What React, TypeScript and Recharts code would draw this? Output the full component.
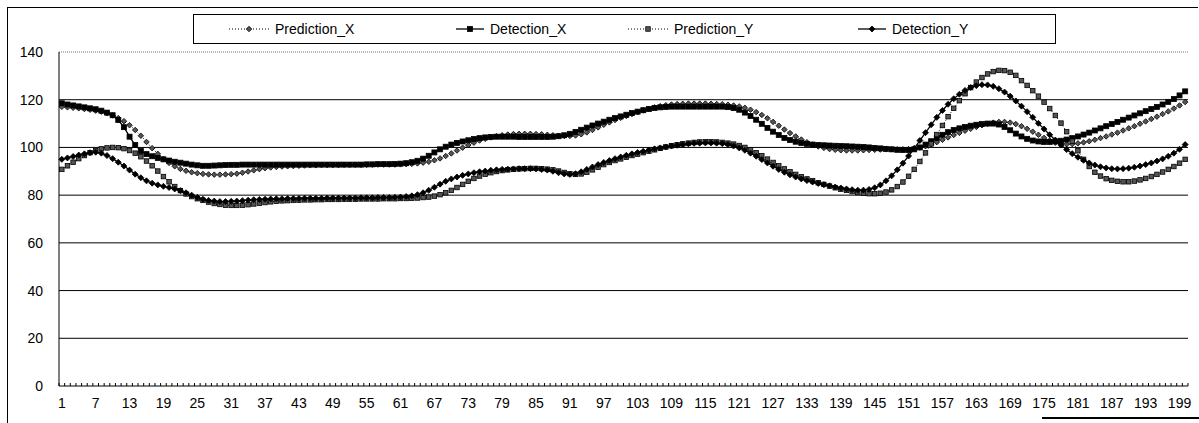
import React from 'react';
import { LineChart, Line, XAxis, YAxis, ReferenceLine } from 'recharts';

const categories: number[] = Array.from({ length: 200 }, (_, i) => i + 1);
const xTickLabels = [1, 7, 13, 19, 25, 31, 37, 43, 49, 55, 61, 67, 73, 79, 85, 91, 97, 103, 109, 115, 121, 127, 133, 139, 145, 151, 157, 163, 169, 175, 181, 187, 193, 199];
const yTicks = [0, 20, 40, 60, 80, 100, 120, 140];
const gridValues = [20, 40, 60, 80, 100, 120];

const predictionX = [
  117, 116.8, 116.6, 116.4, 116.1, 115.8, 115.4, 115, 114.3, 113.4,
  112.3, 111, 109.3, 107.3, 104.9, 102.3, 99.7, 97.3, 95.2, 93.5,
  92.1, 91, 90.2, 89.6, 89.2, 88.9, 88.7, 88.6, 88.6, 88.7,
  88.8, 89, 89.4, 89.9, 90.4, 90.9, 91.3, 91.6, 91.8, 92,
  92.1, 92.2, 92.3, 92.4, 92.5, 92.5, 92.6, 92.6, 92.6, 92.6,
  92.7, 92.7, 92.7, 92.7, 92.7, 92.8, 92.8, 92.8, 92.8, 92.8,
  92.9, 93, 93.1, 93.3, 93.6, 94, 94.6, 95.4, 96.4, 97.5,
  98.7, 99.9, 101, 102, 102.9, 103.6, 104.2, 104.7, 105.1, 105.4,
  105.6, 105.7, 105.7, 105.7, 105.6, 105.5, 105.3, 105.1, 104.9, 104.8,
  104.8, 105, 105.5, 106.3, 107.3, 108.4, 109.5, 110.5, 111.5, 112.4,
  113.2, 114, 114.8, 115.5, 116.2, 116.8, 117.3, 117.7, 118, 118.2,
  118.3, 118.4, 118.4, 118.4, 118.4, 118.3, 118.2, 118.1, 117.9, 117.6,
  117.2, 116.6, 115.8, 114.8, 113.6, 112.2, 110.7, 109.1, 107.5, 106,
  104.6, 103.3, 102.2, 101.2, 100.4, 99.8, 99.3, 99, 98.8, 98.7,
  98.7, 98.7, 98.8, 98.9, 99, 99.1, 99.2, 99.2, 99.2, 99.2,
  99.3, 99.5, 99.9, 100.5, 101.3, 102.2, 103.2, 104.2, 105.2, 106.1,
  107, 107.8, 108.6, 109.3, 109.9, 110.4, 110.7, 110.7, 110.4, 109.8,
  108.9, 107.8, 106.6, 105.3, 104, 102.9, 102, 101.5, 101.3, 101.4,
  101.7, 102.1, 102.6, 103.2, 103.9, 104.6, 105.4, 106.2, 107.1, 108,
  108.9, 109.9, 110.9, 111.9, 112.9, 114, 115.1, 116.3, 117.6, 119,
];

const detectionX = [
  118.5, 118, 117.6, 117.2, 116.8, 116.4, 116, 115.4, 114.6, 113.5,
  111.5, 108.5, 104.5, 101, 98.5, 97.2, 96.3, 95.6, 95, 94.5,
  94, 93.6, 93.2, 92.8, 92.5, 92.3, 92.3, 92.4, 92.5, 92.6,
  92.7, 92.7, 92.8, 92.8, 92.8, 92.8, 92.8, 92.8, 92.8, 92.8,
  92.8, 92.8, 92.8, 92.8, 92.8, 92.8, 92.8, 92.8, 92.8, 92.8,
  92.8, 92.8, 92.8, 92.8, 92.9, 92.9, 93, 93, 93, 93.1,
  93.2, 93.4, 93.8, 94.4, 95.3, 96.5, 97.9, 99.2, 100.3, 101.2,
  101.9, 102.5, 103, 103.5, 103.9, 104.2, 104.4, 104.5, 104.5, 104.5,
  104.5, 104.4, 104.4, 104.4, 104.4, 104.4, 104.4, 104.5, 104.7, 105.1,
  105.7, 106.5, 107.4, 108.3, 109.2, 110, 110.8, 111.6, 112.3, 113,
  113.7, 114.4, 115, 115.6, 116.1, 116.5, 116.8, 117, 117.1, 117.1,
  117.1, 117.1, 117.1, 117.1, 117.1, 117.1, 117.1, 117.1, 116.9, 116.5,
  115.8, 114.6, 113.2, 111.6, 109.9, 108.2, 106.6, 105.2, 104, 103.1,
  102.4, 101.9, 101.5, 101.2, 101, 100.9, 100.8, 100.7, 100.6, 100.5,
  100.4, 100.3, 100.2, 100, 99.8, 99.6, 99.4, 99.2, 99, 98.9,
  98.9, 99.2, 100, 101.2, 102.6, 104, 105.3, 106.4, 107.3, 108,
  108.6, 109.1, 109.5, 109.8, 110, 110, 109.6, 108.6, 107.2, 105.8,
  104.6, 103.6, 102.9, 102.5, 102.3, 102.3, 102.5, 102.8, 103.3, 103.9,
  104.6, 105.4, 106.2, 107.1, 108, 108.9, 109.8, 110.7, 111.6, 112.5,
  113.4, 114.3, 115.2, 116.1, 117, 118, 119.1, 120.3, 121.8, 123.5,
];

const predictionY = [
  90.8, 92.3, 93.8, 95.3, 96.6, 97.8, 98.7, 99.4, 99.8, 100,
  99.9, 99.5, 98.7, 97.6, 96.1, 94.3, 92.3, 90.1, 87.8, 85.6,
  83.6, 81.9, 80.5, 79.4, 78.5, 77.8, 77.1, 76.5, 76.1, 75.8,
  75.7, 75.7, 75.8, 76, 76.3, 76.6, 76.9, 77.2, 77.4, 77.6,
  77.7, 77.8, 77.9, 78, 78, 78.1, 78.1, 78.2, 78.2, 78.2,
  78.3, 78.3, 78.3, 78.4, 78.4, 78.4, 78.4, 78.5, 78.5, 78.5,
  78.6, 78.6, 78.7, 78.8, 79, 79.2, 79.6, 80.2, 81, 82,
  83.2, 84.5, 85.8, 87, 88, 88.8, 89.4, 89.9, 90.3, 90.6,
  90.8, 91, 91.1, 91.2, 91.2, 91.1, 90.9, 90.6, 90.1, 89.5,
  89, 88.7, 88.9, 89.6, 90.6, 91.7, 92.8, 93.7, 94.5, 95.2,
  95.9, 96.6, 97.2, 97.8, 98.4, 99, 99.6, 100.2, 100.7, 101.1,
  101.5, 101.8, 102.1, 102.3, 102.4, 102.4, 102.3, 102.1, 101.8, 101.4,
  100.8, 100, 99, 97.8, 96.5, 95.1, 93.7, 92.3, 91, 89.8,
  88.7, 87.7, 86.8, 86, 85.2, 84.5, 83.8, 83.1, 82.5, 82,
  81.5, 81.1, 80.8, 80.6, 80.6, 80.8, 81.3, 82.2, 83.6, 85.5,
  87.9, 90.8, 94.1, 97.7, 101.5, 105.4, 109.2, 112.9, 116.4, 119.6,
  122.5, 125.1, 127.4, 129.3, 130.8, 131.8, 132.3, 132.2, 131.5, 130.2,
  128, 126, 123.8, 121.5, 119, 116.3, 113.4, 110.2, 106.6, 102.6,
  98.6, 95, 92, 89.6, 88, 86.9, 86.2, 85.8, 85.6, 85.6,
  85.9, 86.4, 87, 87.8, 88.7, 89.7, 90.8, 92, 93.4, 95,
];

const detectionY = [
  95, 95.6, 96.2, 96.8, 97.3, 97.8, 98, 97.6, 96.6, 95.3,
  93.8, 92.2, 90.5, 88.8, 87.3, 86, 85, 84.3, 83.7, 83.2,
  82.6, 81.9, 81, 80, 79.1, 78.3, 77.8, 77.5, 77.3, 77.3,
  77.4, 77.5, 77.7, 77.9, 78.1, 78.2, 78.3, 78.4, 78.5, 78.5,
  78.6, 78.6, 78.6, 78.7, 78.7, 78.7, 78.7, 78.8, 78.8, 78.8,
  78.8, 78.8, 78.8, 78.9, 78.9, 78.9, 79, 79, 79, 79.1,
  79.2, 79.4, 79.7, 80.2, 81, 82, 83.3, 84.6, 85.8, 86.8,
  87.6, 88.3, 88.9, 89.4, 89.8, 90.1, 90.4, 90.6, 90.8, 90.9,
  91, 91.1, 91.1, 91.1, 91, 90.8, 90.5, 90, 89.4, 88.9,
  88.7, 89, 89.8, 90.8, 91.8, 92.8, 93.7, 94.5, 95.3, 96,
  96.7, 97.3, 97.9, 98.4, 98.9, 99.4, 99.8, 100.2, 100.6, 100.9,
  101.2, 101.5, 101.7, 101.8, 101.9, 101.9, 101.8, 101.6, 101.2, 100.6,
  99.8, 98.8, 97.6, 96.3, 94.9, 93.5, 92.1, 90.8, 89.6, 88.5,
  87.6, 86.8, 86.1, 85.5, 84.9, 84.4, 83.9, 83.4, 83, 82.6,
  82.3, 82.1, 82.1, 82.4, 83.1, 84.3, 86, 88.1, 90.6, 93.4,
  96.4, 99.6, 102.9, 106.2, 109.5, 112.6, 115.5, 118.1, 120.4, 122.3,
  123.9, 125.1, 125.9, 126.3, 126.2, 125.6, 124.6, 123.2, 121.5, 119.5,
  117.3, 115, 112.6, 110.1, 107.7, 105.3, 103.1, 101, 99.1, 97.4,
  95.9, 94.6, 93.5, 92.6, 91.9, 91.4, 91.1, 91, 91.1, 91.3,
  91.7, 92.2, 92.8, 93.5, 94.3, 95.2, 96.3, 97.6, 99.2, 101.2,
];

const data = categories.map((c, i) => ({
  cat: c,
  predictionX: predictionX[i],
  detectionX: detectionX[i],
  predictionY: predictionY[i],
  detectionY: detectionY[i],
}));

const FONT = '"Liberation Sans", Arial, sans-serif';
const labelSet = new Set(xTickLabels);

type Shape = 'diamond' | 'square';

function marker(shape: Shape, cx: number, cy: number, size: number, fill: string, stroke: string, key?: string) {
  const h = size / 2;
  if (shape === 'square') {
    return <rect key={key} x={cx - h} y={cy - h} width={size} height={size} fill={fill} stroke={stroke} strokeWidth={0.8} />;
  }
  return (
    <polygon
      key={key}
      points={`${cx},${cy - h} ${cx + h},${cy} ${cx},${cy + h} ${cx - h},${cy}`}
      fill={fill}
      stroke={stroke}
      strokeWidth={0.8}
    />
  );
}

const series = [
  { key: 'predictionX', name: 'Prediction_X', dotted: true, shape: 'diamond' as Shape, size: 5.5, fill: '#555', stroke: '#000', legendLeft: 35, symW: 40 },
  { key: 'detectionX', name: 'Detection_X', dotted: false, shape: 'square' as Shape, size: 5, fill: '#000', stroke: '#000', legendLeft: 262, symW: 28 },
  { key: 'predictionY', name: 'Prediction_Y', dotted: true, shape: 'square' as Shape, size: 4.5, fill: '#555', stroke: '#000', legendLeft: 434, symW: 40 },
  { key: 'detectionY', name: 'Detection_Y', dotted: false, shape: 'diamond' as Shape, size: 6, fill: '#000', stroke: '#000', legendLeft: 664, symW: 28 },
];

const XTick = (props: any) => {
  const { x, y, payload } = props;
  const half = typeof payload.offset === 'number' && payload.offset > 0 ? payload.offset : 2.82;
  const show = labelSet.has(payload.value);
  return (
    <g>
      <line x1={x - half} x2={x - half} y1={y} y2={y - 3} stroke="#000" strokeWidth={1} />
      {payload.index === categories.length - 1 ? (
        <line x1={x + half} x2={x + half} y1={y} y2={y - 3} stroke="#000" strokeWidth={1} />
      ) : null}
      {show ? (
        <text x={x} y={y + 22} textAnchor="middle" fontSize={14} fill="#000" fontFamily={FONT}>
          {payload.value}
        </text>
      ) : null}
    </g>
  );
};

const Legendbox = () => (
  <div
    style={{
      position: 'absolute',
      left: 193,
      top: 14,
      width: 861,
      height: 28,
      border: '1px solid #000',
      background: '#fff',
      fontFamily: FONT,
      fontSize: 14,
    }}
  >
    {series.map((s) => (
      <div key={s.key} style={{ position: 'absolute', left: s.legendLeft, top: 0, height: 28, display: 'flex', alignItems: 'center' }}>
        <svg width={s.symW} height={10} style={{ marginRight: 6 }}>
          <line
            x1={0}
            x2={s.symW}
            y1={5}
            y2={5}
            stroke="#000"
            strokeWidth={s.dotted ? 1 : 1.3}
            strokeDasharray={s.dotted ? '1 2' : undefined}
          />
          {marker(s.shape, s.symW / 2, 5, s.size, s.fill, s.stroke)}
        </svg>
        <span style={{ color: '#000', lineHeight: '28px' }}>{s.name}</span>
      </div>
    ))}
  </div>
);

export default function App() {
  return (
    <div style={{ position: 'absolute', left: 0, top: 0, width: 1199, height: 423, overflow: 'hidden', background: '#fff', fontFamily: FONT }}>
      <div style={{ position: 'absolute', left: 7, top: 7, width: 1190, height: 430, borderLeft: '1px solid #000', borderTop: '1px solid #000' }} />
      <div style={{ position: 'absolute', left: 1042, top: 417, width: 157, height: 2, background: '#000' }} />
      <div style={{ position: 'absolute', left: 0, top: 0 }}>
        <LineChart width={1199} height={423} data={data} margin={{ top: 52, right: 11, left: 0, bottom: 0 }}>
          <XAxis
            dataKey="cat"
            type="category"
            scale="band"
            height={37}
            interval={0}
            tickLine={false}
            tickSize={0}
            tickMargin={0}
            axisLine={{ stroke: '#000', strokeWidth: 1 }}
            tick={<XTick />}
          />
          <YAxis
            domain={[0, 140]}
            ticks={yTicks}
            interval={0}
            width={59}
            tickLine={false}
            tickSize={0}
            tickMargin={16}
            axisLine={{ stroke: '#000', strokeWidth: 1 }}
            tick={{ fontSize: 14, fill: '#000', fontFamily: FONT }}
          />
          <YAxis
            yAxisId="right"
            orientation="right"
            domain={[0, 140]}
            width={0}
            tick={false}
            tickLine={false}
            axisLine={{ stroke: '#555', strokeWidth: 1 }}
          />
          {gridValues.map((v) => (
            <ReferenceLine key={v} y={v} stroke="#000" strokeWidth={1} />
          ))}
          <ReferenceLine y={140} stroke="#777" strokeWidth={1} strokeDasharray="1 1" />
          {series.map((s) => (
            <Line
              key={s.key}
              dataKey={s.key}
              name={s.name}
              type="linear"
              stroke="#000"
              strokeWidth={s.dotted ? 1 : 1.3}
              strokeDasharray={s.dotted ? '1 2' : undefined}
              isAnimationActive={false}
              activeDot={false}
              dot={(p: any) => marker(s.shape, p.cx, p.cy, s.size, s.fill, s.stroke, `${s.key}-${p.index}`)}
            />
          ))}
        </LineChart>
      </div>
      <Legendbox />
    </div>
  );
}
